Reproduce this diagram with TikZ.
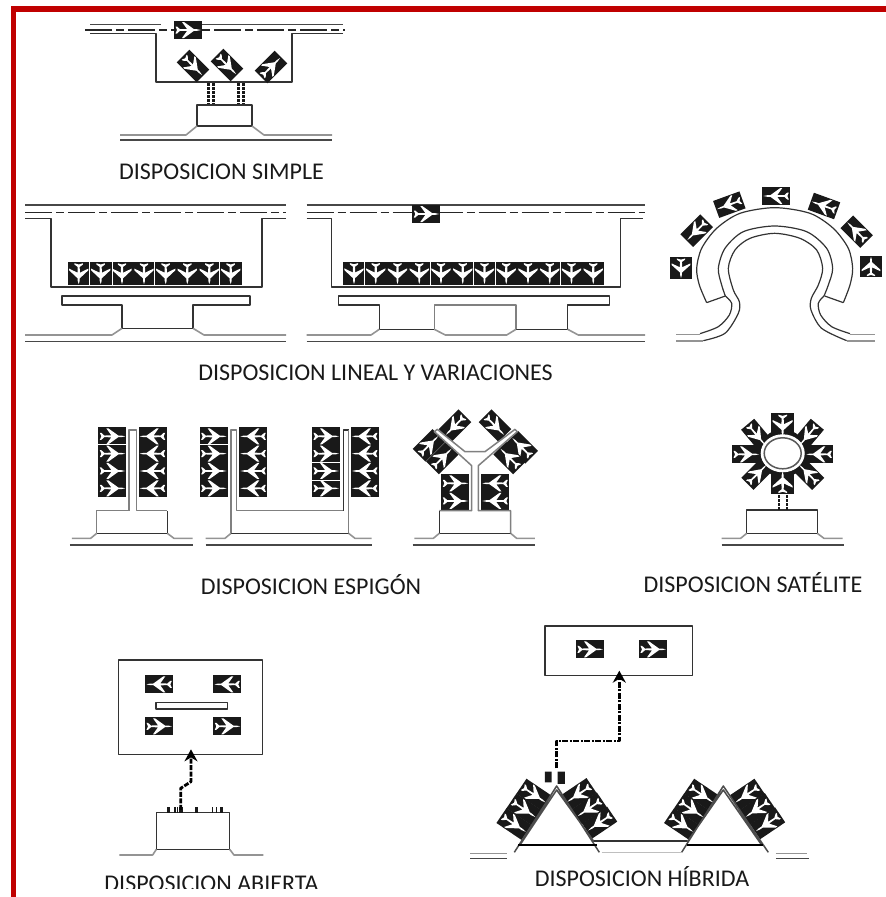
\documentclass[tikz,border=0pt]{standalone}
\usepackage{fontspec}
\setmainfont{Carlito}
\usepackage{tikz}
\usetikzlibrary{arrows.meta}

\begin{document}
\begin{tikzpicture}[
    x=1pt, y=-1pt,
    font=\fontsize{24}{28}\selectfont,
    % Frame and captions
    frameline/.style={draw={rgb,255:red,192;green,0;blue,0}, line width=5.5pt},
    caption/.style={anchor=base, inner sep=0pt, text=black!90},
    % Airfield lines
    apron/.style={draw=black!80, line width=1.5pt, line join=round},
    taxi/.style={draw=black!42, line width=1.6pt, line join=round},
    road/.style={draw=black!72, line width=1.5pt},
    pier/.style={draw=black!50, line width=1.5pt, line join=round},
    runway/.style={draw=black!85, line width=1.8pt, dash pattern=on 27pt off 4pt on 8pt off 4pt},
    % Links between terminal and stands
    gatelink/.style={draw=black!90, line width=2.6pt, dash pattern=on 3pt off 1pt},
    walklink/.style={draw=black, line width=2.8pt, dash pattern=on 6pt off 1.5pt on 2pt off 1.5pt,
        -{Stealth[length=12pt, width=13pt]}, line join=round},
    % Parked aircraft, nose pointing along local +x
    plane/.pic={
        \begin{scope}[x=1pt, y=1pt]
        \fill[black!90] (-14,-9) rectangle (14,9);
        \fill[white] (13,0) -- (9,-.8) -- (6,-.8) -- (-4,-8) -- (-6,-8) -- (-1,-1) -- (-8,-.8)
            -- (-11,-3.5) -- (-12.5,-3.5) -- (-11,0) -- (-12.5,3.5) -- (-11,3.5) -- (-8,.8)
            -- (-1,1) -- (-6,8) -- (-4,8) -- (6,.8) -- (9,.8) -- cycle;
        \end{scope}
    }
]

\useasboundingbox (0,0) rectangle (886,897);

% ---------------------------------------------------
% 1. FRAME
% ---------------------------------------------------
\draw[frameline] (13.7,897) -- (13.7,9) -- (886,9);

% ---------------------------------------------------
% 2. SIMPLE
% ---------------------------------------------------
\draw[road] (90,24.5) -- (161,24.5) (202,24.5) -- (343,24.5);
\draw[runway] (85,30) -- (345,30);
\draw[apron] (90,33.5) -- (156,33.5) -- (156,82) -- (292,82) -- (292,33.5) -- (343,33.5);
\pic at (188,30) {plane};
\pic[rotate=-45] at (193,66) {plane};
\pic[rotate=-45] at (227,65) {plane};
\pic[rotate=45] at (271,67) {plane};
\foreach \gx in {208.5,213.5,238.5,243.5}
    \draw[gatelink] (\gx,83) -- (\gx,104);
\draw[apron] (197,105) rectangle (252,126);
\draw[taxi] (120,135) -- (186,135) -- (197,126) (252,126) -- (264,135) -- (332,135);
\draw[road] (120,140) -- (332,140);
\node[caption] (capsimple) at (221.5,179) {DISPOSICION SIMPLE};

% ---------------------------------------------------
% 3. LINEAL (two layouts and the curved one)
% ---------------------------------------------------
\draw[road] (25,205) -- (286,205);
\draw[runway, line width=1.3pt] (25,212.7) -- (286,212.7);
\draw[apron] (25,218.7) -- (51,218.7) -- (51,287) -- (262,287) -- (262,218.7) -- (286,218.7);
\foreach \px in {78.7,100.7,122,144,165.7,187.3,209.3,230.7}
    \pic[rotate=-90,xscale=.82,yscale=1.21] at (\px,273.5) {plane};
\foreach \gx in {89.7,112.3,154.7,219.7}
    \draw[white, line width=.8pt] (\gx,262) -- (\gx,285);
\draw[apron] (122,328.3) -- (122,305) -- (62,305) -- (62,296) -- (250,296) -- (250,305)
    -- (193,305) -- (193,328.3) -- cycle;
\draw[taxi] (25,335) -- (112,335) -- (122,328.3) (193,328.3) -- (204,335) -- (286,335);
\draw[road] (25,341.7) -- (286,341.7);

\draw[road] (306.7,205) -- (645,205);
\draw[runway, line width=1.3pt] (306.7,212.7) -- (645,212.7);
\draw[apron] (306.7,218.7) -- (331.7,218.7) -- (331.7,287) -- (620.7,287) -- (620.7,218.7) -- (643,218.7);
\pic at (426.3,214) {plane};
\foreach \pn in {0,...,11}
    \pic[rotate=-90,xscale=.82,yscale=1.21] at ({354+\pn*21.75},273.3) {plane};
\foreach \gx in {364.7,430.3,473.3,495.3,560}
    \draw[white, line width=.8pt] (\gx,262) -- (\gx,285);
\draw[apron] (379.3,329.3) -- (379.3,305) -- (338.3,305) -- (338.3,296) -- (609.3,296) -- (609.3,305)
    -- (567.7,305) -- (567.7,329.3) -- (516,329.3) (434.3,329.3) -- (379.3,329.3);
\draw[pier] (434.3,329.3) -- (434.3,305) -- (516,305) -- (516,329.3);
\draw[taxi] (306.7,335) -- (371,335) -- (379.3,329.3)
    (434.3,329.3) -- (445.3,335) -- (506.7,335) -- (516,329.3)
    (567.7,329.3) -- (578.3,335) -- (645,335);
\draw[road] (306.7,341.7) -- (645,341.7);

\begin{scope}[shift={(650,170)}, x=.3333pt, y=-.3333pt]
    \draw[apron, line width=1.2pt] plot[smooth] coordinates {(170,398) (148,345) (140,295) (155,235) (200,175) (270,130)
        (374,113) (480,130) (550,175) (595,235) (608,295) (600,345) (580,398)};
    \draw[apron, line width=1.2pt] (170,398) -- (226,378) (524,378) -- (580,398);
    \draw[apron, line width=1.2pt] plot[smooth] coordinates {(226,378) (215,345) (205,295) (225,235) (280,185) (374,168)
        (470,185) (530,235) (548,295) (535,345) (522,378)};
    \draw[apron, line width=1.2pt] plot[smooth] coordinates {(226,378) (245,400) (238,435) (205,470) (150,491)};
    \draw[apron, line width=1.2pt] plot[smooth] coordinates {(522,378) (505,400) (512,435) (545,470) (600,491)};
    \draw[apron, line width=1.2pt] plot[smooth] coordinates {(160,512) (225,490) (265,430) (268,395) (250,360) (235,295) (255,240) (300,205) (374,190)
        (450,205) (500,240) (518,295) (505,345) (484,385) (483,420) (515,475) (590,512)};
    \draw[taxi] (78,493) -- (150,493) (600,493) -- (675,493) (78,513) -- (160,513) (590,513) -- (675,513);
    \pic[rotate=-90,xscale=.76,yscale=1.18] at (93,294) {plane};
    \pic[rotate=225] at (140,182) {plane};
    \pic[rotate=200] at (238,104) {plane};
    \pic[rotate=180] at (379,78) {plane};
    \pic[rotate=160] at (522,108) {plane};
    \pic[rotate=135] at (620,185) {plane};
    \pic[rotate=90,xscale=.76,yscale=1.18] at (663,290) {plane};
\end{scope}
\node[caption] (caplineal) at (375.5,380.5) {DISPOSICION LINEAL Y VARIACIONES};

% ---------------------------------------------------
% 4. ESPIGON
% ---------------------------------------------------
\begin{scope}[shift={(60,400)}, x=.3333pt, y=-.3333pt]
    \foreach \cx/\rot in {157/0, 278/180, 461/0, 580/180, 798/0, 915/180}
        \foreach \cy in {109,161,213,265}
            \pic[rotate=\rot] at (\cx,\cy) {plane};
    \draw[white, line width=.7pt] (115,133) -- (200,133) (420,133) -- (503,133)
        (757,188) -- (840,188) (757,240) -- (840,240);
    \draw[pier] (207,332) -- (207,90) -- (230,90) -- (230,332) -- (322,332);
    \draw[pier] (207,332) -- (110,332) -- (110,400);
    \draw[apron] (110,400) -- (322,400) -- (322,332);
    \draw[pier] (513,400) -- (513,90) -- (530,90) -- (530,332) -- (850,332);
    \draw[apron] (850,332) -- (850,90) -- (866,90);
    \draw[pier] (866,90) -- (866,400);
    \draw[apron] (866,400) -- (513,400);
    \draw[taxi] (36,415) -- (92,415) -- (110,400) (322,400) -- (342,415) -- (398,415);
    \draw[taxi] (437,415) -- (495,415) -- (513,400) (866,400) -- (885,415) -- (935,415);
    \draw[road] (30,435) -- (398,435) (437,435) -- (935,435);
\end{scope}

\begin{scope}[shift={(400,400)}, x=.3333pt, y=-.3333pt]
    \foreach \cx/\cy/\rot in {166/250/0, 166/303/0, 286/250/180, 286/303/180,
        165/77/225, 285/77/-45, 87/136/45, 127/174/45, 365/142/135, 329/174/135}
        \pic[rotate=\rot] at (\cx,\cy) {plane};
    \fill[white] (215,332) -- (215,197) -- (103,95) -- (112,88) -- (195,155) -- (255,155)
        -- (345,88) -- (352,95) -- (235,197) -- (235,332) -- cycle;
    \draw[pier] (118,332) -- (215,332) -- (215,197) -- (103,95) -- (112,88) -- (195,155) -- (255,155)
        -- (345,88) -- (352,95) -- (235,197) -- (235,332) -- (332,332) -- (332,400);
    \draw[apron] (118,332) -- (118,400) -- (332,400);
    \draw[taxi] (43,415) -- (100,415) -- (118,400) (332,400) -- (350,415) -- (405,415);
    \draw[road] (38,435) -- (406,435);
\end{scope}
\node[caption] (capespigon) at (311,594) {DISPOSICION ESPIGÓN};

% ---------------------------------------------------
% 5. SATELITE
% ---------------------------------------------------
\fill[black!90] (782.7,453.3) circle (24);
\begin{scope}[shift={(700,400)}, x=.3333pt, y=-.3333pt]
    \foreach \cx/\cy/\rot/\sx/\sy in {248/75/-90/.83/1.26, 248/248/90/.83/1.26, 138/163/0/1/1, 358/163/180/1/1,
        170/105/-50/1/.95, 325/105/230/1/.95, 172/222/45/1/.95, 325/222/135/1/.95}
        \pic[rotate=\rot,xscale=\sx,yscale=\sy] at (\cx,\cy) {plane};
    \draw[apron] (140,330) rectangle (352,400);
    \draw[taxi] (65,415) -- (122,415) -- (140,400) (352,400) -- (372,415) -- (428,415);
    \draw[road] (65,435) -- (432,435);
\end{scope}
\draw[draw=white, fill=white, line width=1pt] (782.7,453.3) ellipse (21.5 and 18.5);
\draw[pier, draw=black!65] (782.7,453.3) ellipse (18.5 and 15.5);
\foreach \gx in {779,787}
    \draw[gatelink] (\gx,495) -- (\gx,510);
\node[caption] (capsatelite) at (753,592) {DISPOSICION SATÉLITE};

% ---------------------------------------------------
% 6. ABIERTA
% ---------------------------------------------------
\begin{scope}[shift={(80,640)}, x=.3333pt, y=-.3333pt]
    \draw[apron] (116,60) rectangle (548,343);
    \draw[apron] (228,187) rectangle (443,207);
    \pic[rotate=180] at (238,133) {plane};
    \pic[rotate=180] at (442,133) {plane};
    \pic at (237,259) {plane};
    \pic at (442,259) {plane};
    \draw[apron] (229,518) rectangle (449,628);
    \draw[taxi] (118,645) -- (218,645) -- (229,628) (449,628) -- (462,645) -- (550,645);
    \foreach \mx/\mw in {265/5, 285/2, 293/2, 303/5, 349/5, 398/2, 410/2, 424/4}
        \fill[black!90] ({\mx-\mw},500) rectangle ({\mx+\mw},518);
    \coordinate (abiertastand) at (302,510);
    \coordinate (abiertaknee) at (302,445);
    \coordinate (abiertabend) at (333,425);
    \coordinate (abiertatip) at (333,328);
    \draw[walklink, dash pattern=on 5pt off 1.5pt] (abiertastand) -- (abiertaknee) -- (abiertabend) -- (abiertatip);
\end{scope}
\begin{scope}
    \clip (20,860) rectangle (886,888.7);
    \node[caption] (capabierta) at (211.5,891) {DISPOSICION ABIERTA};
\end{scope}

% ---------------------------------------------------
% 7. HIBRIDA
% ---------------------------------------------------
\begin{scope}[shift={(460,610)}, x=.3333pt, y=-.3333pt]
    \draw[apron] (255,48) rectangle (698,196);
    \pic at (390,118) {plane};
    \pic at (579,118) {plane};
    \fill[black!90] (255,485) rectangle (275,517) (293,485) rectangle (315,522);
    \coordinate (hibridastand) at (290,475);
    \coordinate (hibridacorner) at (290,393);
    \coordinate (hibridaturn) at (478,393);
    \coordinate (hibridatip) at (478,182);
    \draw[walklink] (hibridastand) -- (hibridacorner) -- (hibridaturn) -- (hibridatip);
    \foreach \cx/\cy/\dx/\dy/\rot in {192/598/30/-44/-34, 388/595/31/43/214, 695/598/30/-44/-34, 892/597/31/43/214}
        \foreach \k in {-1,0,1}
            \pic[rotate=\rot,xscale=1.08] at ({\cx+\k*\dx},{\cy+\k*\dy}) {plane};
    \draw[pier, draw=black!70] (163,727) -- (290,528) -- (418,727) (180,705) -- (290,540) -- (402,695);
    \draw[pier, draw=black!70] (665,727) -- (790,528) -- (925,727) (682,695) -- (790,540) -- (905,705);
    \draw[draw=black, line width=1.8pt] (175,705) -- (410,705) (680,705) -- (908,705);
    \draw[apron] (402,693) -- (682,693);
    \draw[taxi, draw=black!25] (425,727) -- (665,727);
    \draw[taxi] (30,730) -- (140,730) (948,730) -- (1040,730);
    \draw[road] (30,745) -- (140,745) (948,745) -- (1048,745);
\end{scope}
\node[caption] (caphibrida) at (642,886) {DISPOSICION HÍBRIDA};

\end{tikzpicture}
\end{document}
